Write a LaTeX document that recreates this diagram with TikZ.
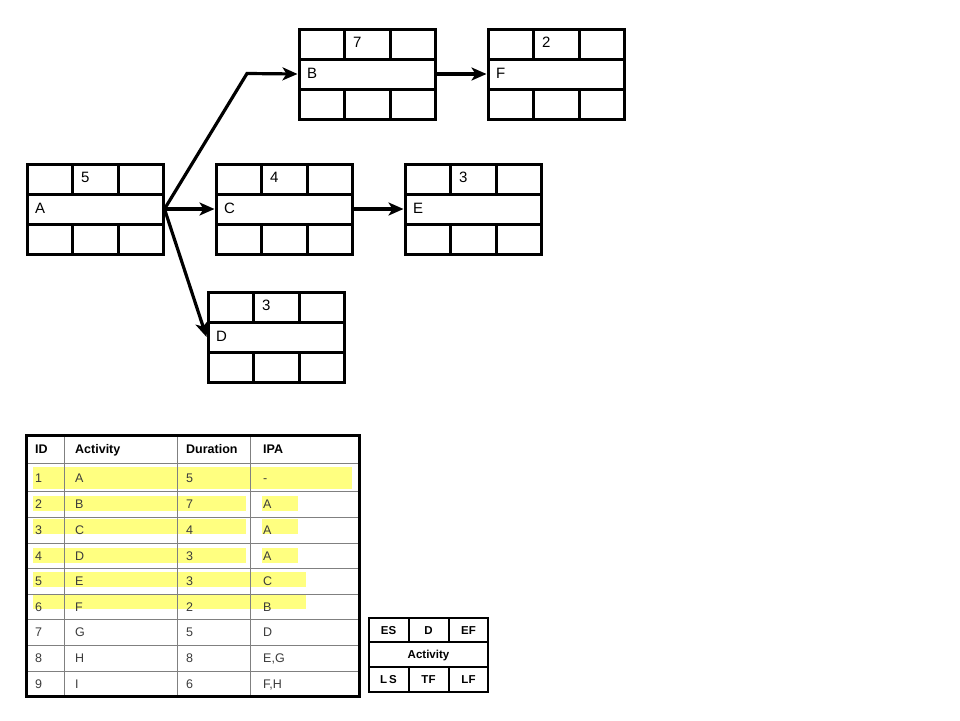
\documentclass[tikz,border=0pt]{standalone}
\usepackage{fontspec}
\setmainfont{Liberation Sans}
\usetikzlibrary{arrows.meta}
\definecolor{hl}{RGB}{255,255,128}
\definecolor{tgrid}{RGB}{128,128,128}
\definecolor{ttext}{RGB}{60,60,60}
\tikzset{
  abox/.style={draw, line width=3pt, minimum width=136pt, minimum height=90pt, inner sep=0pt},
  boxline/.style={line width=3pt},
  ntext/.style={anchor=west, inner sep=0pt, text height=11pt, text depth=0pt, font=\fontsize{15}{18}\selectfont},
  conn/.style={line width=3.2pt, -{Stealth[length=15pt,width=13pt,inset=4pt]}, line join=miter},
  tgridline/.style={draw=tgrid, line width=1pt},
  thead/.style={anchor=west, inner sep=0pt, text height=9pt, text depth=0pt, font=\fontsize{12.5}{15}\selectfont\bfseries},
  tcell/.style={anchor=west, inner sep=0pt, text height=9pt, text depth=0pt, text=ttext, font=\fontsize{12.5}{15}\selectfont},
  hlbar/.style={fill=hl, draw=none},
  lgbox/.style={draw, line width=2pt},
  lgtext/.style={inner sep=0pt, text height=8.5pt, text depth=0pt, font=\fontsize{11.5}{14}\selectfont\bfseries},
}
% name, x, y (top-left), duration, label
\newcommand\actbox[5]{%
  \node[abox] (#1) at (#2+68,#3+45) {};
  \draw[boxline] (#2,#3+30) -- (#2+136,#3+30);
  \draw[boxline] (#2,#3+60) -- (#2+136,#3+60);
  \draw[boxline] (#2+45,#3) -- (#2+45,#3+30);
  \draw[boxline] (#2+91,#3) -- (#2+91,#3+30);
  \draw[boxline] (#2+45,#3+60) -- (#2+45,#3+90);
  \draw[boxline] (#2+91,#3+60) -- (#2+91,#3+90);
  \node[ntext] (#1dur) at (#2+54,#3+13) {#4};
  \node[ntext] (#1lab) at (#2+8,#3+44) {#5};
}
\begin{document}
\begin{tikzpicture}[x=1pt,y=-1pt]
\useasboundingbox[fill=white] (0,0) rectangle (960,720);

% activity boxes
\actbox{A}{27}{164}{5}{A}
\actbox{B}{299}{29}{7}{B}
\actbox{F}{488}{29}{2}{F}
\actbox{C}{216}{164}{4}{C}
\actbox{E}{405}{164}{3}{E}
\actbox{D}{208}{292}{3}{D}

% connectors
\coordinate (bend) at (247,73.5);
\draw[conn] (A.east) -- (bend) -- (B.west);
\draw[conn] (A.east) -- (C.west);
\draw[conn] (A.east) -- (D.west);
\draw[conn] (B.east) -- (F.west);
\draw[conn] (C.east) -- (E.west);

% table highlights
\fill[hlbar] (33,467) rectangle (352,489);
\fill[hlbar] (33,496) rectangle (246,511);
\fill[hlbar] (262,496) rectangle (298,511);
\fill[hlbar] (33,519) rectangle (246,534);
\fill[hlbar] (262,519) rectangle (298,534);
\fill[hlbar] (33,548) rectangle (246,563);
\fill[hlbar] (262,548) rectangle (298,563);
\fill[hlbar] (33,572) rectangle (306,587);
\fill[hlbar] (33,594) rectangle (306,609);

% table grid
\foreach \yy in {463,491,517,543,568,594,619,645,671}
  \draw[tgridline] (26,\yy) -- (359,\yy);
\foreach \xx in {64,177,250}
  \draw[tgridline] (\xx,435) -- (\xx,696);
\node[draw, line width=3pt, minimum width=333pt, minimum height=261pt, inner sep=0pt] (tbl) at (192.5,565.5) {};

% table header
\node[thead] (hID) at (35,449) {ID};
\node[thead] (hAct) at (75,449) {Activity};
\node[thead] (hDur) at (186,449) {Duration};
\node[thead] (hIPA) at (263,449) {IPA};

% table body
\foreach \i/\yy/\act/\dur/\ipa in {1/478/A/5/-, 2/504/B/7/A, 3/530/C/4/A, 4/556/D/3/A, 5/581/E/3/C, 6/607/F/2/B, 7/632/G/5/D, 8/658/H/8/{E,G}, 9/684/I/6/{F,H}}{
  \node[tcell] (r\i id) at (35,\yy) {\i};
  \node[tcell] (r\i act) at (75,\yy) {\act};
  \node[tcell] (r\i dur) at (186,\yy) {\dur};
  \node[tcell] (r\i ipa) at (263,\yy) {\ipa};
}

% legend
\node[lgbox, minimum width=119pt, minimum height=74pt, inner sep=0pt] (lg) at (428.5,655) {};
\draw[lgbox] (369,642) -- (488,642);
\draw[lgbox] (369,667) -- (488,667);
\draw[lgbox] (408.5,618) -- (408.5,642);
\draw[lgbox] (448.5,618) -- (448.5,642);
\draw[lgbox] (408.5,667) -- (408.5,692);
\draw[lgbox] (448.5,667) -- (448.5,692);
\node[lgtext] (lES) at (388.5,630) {ES};
\node[lgtext] (lD) at (428.5,630) {D};
\node[lgtext] (lEF) at (468.5,630) {EF};
\node[lgtext] (lAct) at (428.5,654.5) {Activity};
\node[lgtext] (lLS) at (388.5,679.5) {L\,S};
\node[lgtext] (lTF) at (428.5,679.5) {TF};
\node[lgtext] (lLF) at (468.5,679.5) {LF};
\end{tikzpicture}
\end{document}
